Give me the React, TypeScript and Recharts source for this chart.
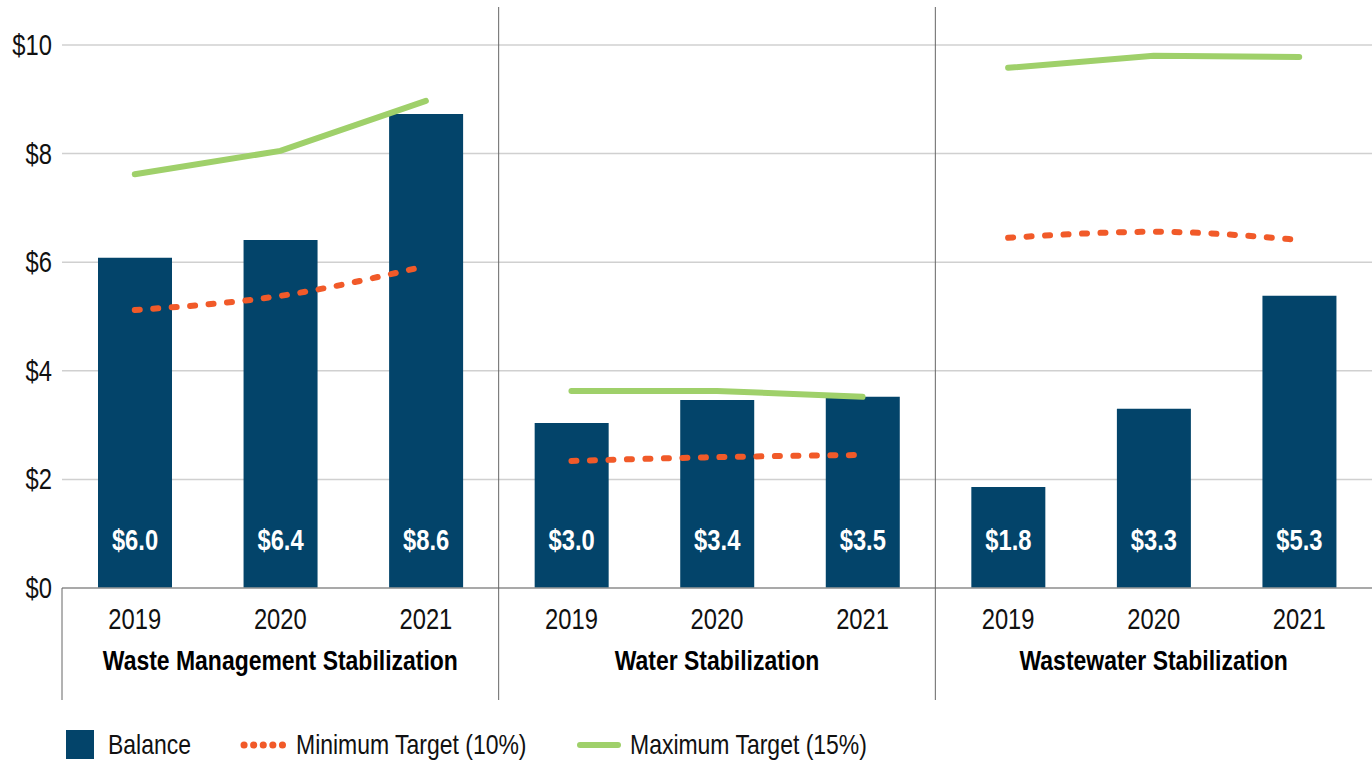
import React from 'react';
import { ComposedChart, Bar, Line, XAxis, YAxis, CartesianGrid, LabelList } from 'recharts';

const groups = ['Waste Management Stabilization', 'Water Stabilization', 'Wastewater Stabilization'];
const years = ['2019', '2020', '2021'];

const balance = [6.08, 6.41, 8.73, 3.04, 3.46, 3.52, 1.86, 3.3, 5.38];
const balanceLabels = ['$6.0', '$6.4', '$8.6', '$3.0', '$3.4', '$3.5', '$1.8', '$3.3', '$5.3'];
const minTarget = [5.12, 5.38, 5.93, 2.34, 2.41, 2.45, 6.45, 6.56, 6.41];
const maxTarget = [7.62, 8.05, 8.97, 3.63, 3.63, 3.52, 9.58, 9.8, 9.78];
const yTicks = [0, 2, 4, 6, 8, 10];

// narrow look: Arial metrics squeezed horizontally
const FONT = '"Liberation Sans", Arial, sans-serif';
const SQUEEZE = 0.82;
const NAVY = '#03446a';
const ORANGE = '#f15a29';
const GREEN = '#9fd06a';

const W = 1372;
const H = 761;
const LEFT = 62;
const BAND = (W - LEFT) / 9;

const data = balance.map((b, i) => {
  const g = Math.floor(i / 3);
  const row: Record<string, any> = {
    key: `${g}-${years[i % 3]}`,
    year: years[i % 3],
    group: g,
    balance: b,
    label: balanceLabels[i],
  };
  row[`min${g}`] = minTarget[i];
  row[`max${g}`] = maxTarget[i];
  return row;
});

const NText = ({ x, y, anchor = 'middle', size = 29, bold = false, fill = '#111', children }: any) => (
  <text
    transform={`translate(${x},${y}) scale(${SQUEEZE},1)`}
    textAnchor={anchor}
    fontSize={size}
    fontWeight={bold ? 'bold' : 'normal'}
    fontFamily={FONT}
    fill={fill}
  >
    {children}
  </text>
);

const XTick = (props: any) => {
  const { x, y, index } = props;
  const row = data[index];
  return (
    <g>
      <NText x={x} y={y + 33}>{row.year}</NText>
      {index % 3 === 1 && (
        <NText x={x} y={y + 74} size={28} bold fill="#000">
          {groups[row.group]}
        </NText>
      )}
      {index === 0 && <line x1={x - BAND / 2} x2={x - BAND / 2} y1={588} y2={700} stroke="#666" strokeWidth={1} />}
      {index % 3 === 2 && index < 8 && (
        <line x1={x + BAND / 2} x2={x + BAND / 2} y1={7} y2={700} stroke="#666" strokeWidth={1} />
      )}
    </g>
  );
};

const YTick = (props: any) => {
  const { y, payload } = props;
  return (
    <NText x={52} y={y + 10} anchor="end">
      {`$${payload.value}`}
    </NText>
  );
};

const BarLabel = (props: any) => {
  const { x, y, width, height, value } = props;
  return (
    <NText x={x + width / 2} y={y + height - 38} bold fill="#fff">
      {value}
    </NText>
  );
};

const legendText: React.CSSProperties = {
  position: 'absolute',
  top: 729,
  fontFamily: FONT,
  fontSize: 28,
  color: '#111',
  transform: `scaleX(${SQUEEZE})`,
  transformOrigin: 'left',
  whiteSpace: 'nowrap',
  lineHeight: '32px',
};

const Legend = () => (
  <>
    <div style={{ position: 'absolute', left: 66, top: 730, width: 28, height: 29, background: NAVY }} />
    <span style={{ ...legendText, left: 108 }}>Balance</span>
    <svg style={{ position: 'absolute', left: 236, top: 735 }} width={60} height={20}>
      <line x1={8} x2={56} y1={10} y2={10} stroke={ORANGE} strokeWidth={7} strokeDasharray="0.1 9.5" strokeLinecap="round" />
    </svg>
    <span style={{ ...legendText, left: 296 }}>Minimum Target (10%)</span>
    <svg style={{ position: 'absolute', left: 574, top: 735 }} width={50} height={20}>
      <line x1={6} x2={44} y1={10} y2={10} stroke={GREEN} strokeWidth={6} strokeLinecap="round" />
    </svg>
    <span style={{ ...legendText, left: 630 }}>Maximum Target (15%)</span>
  </>
);

export default function App() {
  return (
    <div style={{ position: 'absolute', left: 0, top: 0, width: W, height: H, background: '#fff', overflow: 'hidden' }}>
      <ComposedChart width={W} height={H} data={data} margin={{ top: 45, right: 0, bottom: 53, left: 0 }}>
        <CartesianGrid vertical={false} stroke="#d0d0d0" strokeWidth={1.5} />
        <XAxis
          dataKey="key"
          interval={0}
          tick={<XTick />}
          tickLine={false}
          axisLine={{ stroke: '#999', strokeWidth: 1.5 }}
          height={120}
        />
        <YAxis
          domain={[0, 10]}
          ticks={yTicks}
          width={LEFT}
          axisLine={false}
          tickLine={false}
          tick={<YTick />}
        />
        <Bar dataKey="balance" fill={NAVY} barSize={74} isAnimationActive={false}>
          <LabelList dataKey="label" content={<BarLabel />} />
        </Bar>
        {groups.map((_, g) => (
          <Line
            key={`min${g}`}
            dataKey={`min${g}`}
            type="monotone"
            stroke={ORANGE}
            strokeWidth={6}
            strokeDasharray="5 13.5"
            strokeLinecap="round"
            dot={false}
            activeDot={false}
            connectNulls={false}
            isAnimationActive={false}
          />
        ))}
        {groups.map((_, g) => (
          <Line
            key={`max${g}`}
            dataKey={`max${g}`}
            type="linear"
            stroke={GREEN}
            strokeWidth={6}
            strokeLinecap="round"
            dot={false}
            activeDot={false}
            connectNulls={false}
            isAnimationActive={false}
          />
        ))}
      </ComposedChart>
      <Legend />
    </div>
  );
}
